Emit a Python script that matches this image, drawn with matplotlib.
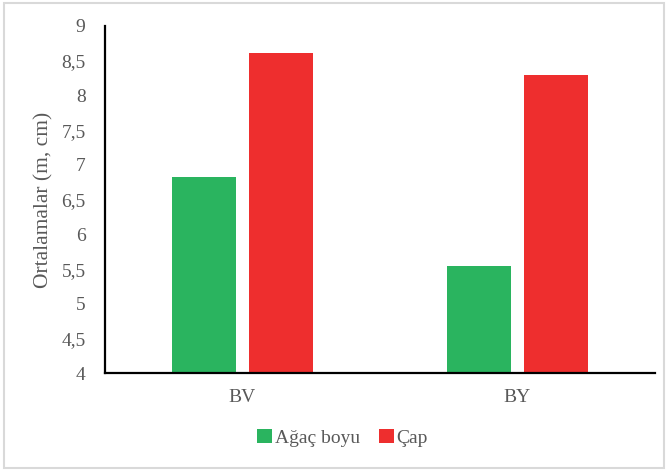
import matplotlib
matplotlib.use("Agg")
import matplotlib.pyplot as plt
from matplotlib.patches import Rectangle
import numpy as np

categories = ["BV", "BY"]
series_names = ["Ağaç boyu", "Çap"]
agac_boyu = [6.82, 5.54]
cap = [8.61, 8.30]
yticks = [4, 4.5, 5, 5.5, 6, 6.5, 7, 7.5, 8, 8.5, 9]
ytick_labels = ["4", "4,5", "5", "5,5", "6", "6,5", "7", "7,5", "8", "8,5", "9"]

green = "#2AB45F"
red = "#EE2E2E"
gray = "#595959"

plt.rcParams['font.family'] = ['Liberation Serif', 'DejaVu Serif']

fig = plt.figure(figsize=(6.69, 4.71), dpi=100)
ax = fig.add_axes([0.157, 0.2074, 0.822, 0.7374])

x = np.arange(len(categories))
w = 0.23
off = 0.14
ax.bar(x - off, np.array(agac_boyu) - 4, width=w, bottom=4, color=green, label=series_names[0])
ax.bar(x + off, np.array(cap) - 4, width=w, bottom=4, color=red, label=series_names[1])

ax.set_xlim(-0.5, 1.5)
ax.set_ylim(4, 9)
ax.set_yticks(yticks)
ax.set_yticklabels(ytick_labels)
ax.set_xticks(x)
ax.set_xticklabels(categories)
ax.tick_params(axis='both', length=0, labelsize=14, colors=gray)
ax.tick_params(axis='y', pad=14)
ax.tick_params(axis='x', pad=11)
for s in ['top', 'right']:
    ax.spines[s].set_visible(False)
for s in ['left', 'bottom']:
    ax.spines[s].set_linewidth(1.6)
    ax.spines[s].set_color('black')

ax.set_ylabel("Ortalamalar (m, cm)", fontsize=15.5, color=gray)
ax.yaxis.set_label_coords(-0.093, 0.5)

leg = fig.legend(loc='center', bbox_to_anchor=(0.512, 0.07), ncol=2, frameon=False,
                 fontsize=14, handlelength=0.75, handleheight=0.75, handletextpad=0.15,
                 columnspacing=1.0)
for t in leg.get_texts():
    t.set_color(gray)

fig.patches.append(Rectangle((0.006, 0.006), 0.986, 0.988, transform=fig.transFigure,
                             fill=False, edgecolor="#D9D9D9", linewidth=1.5))

fig.savefig("out.png", dpi=100)
